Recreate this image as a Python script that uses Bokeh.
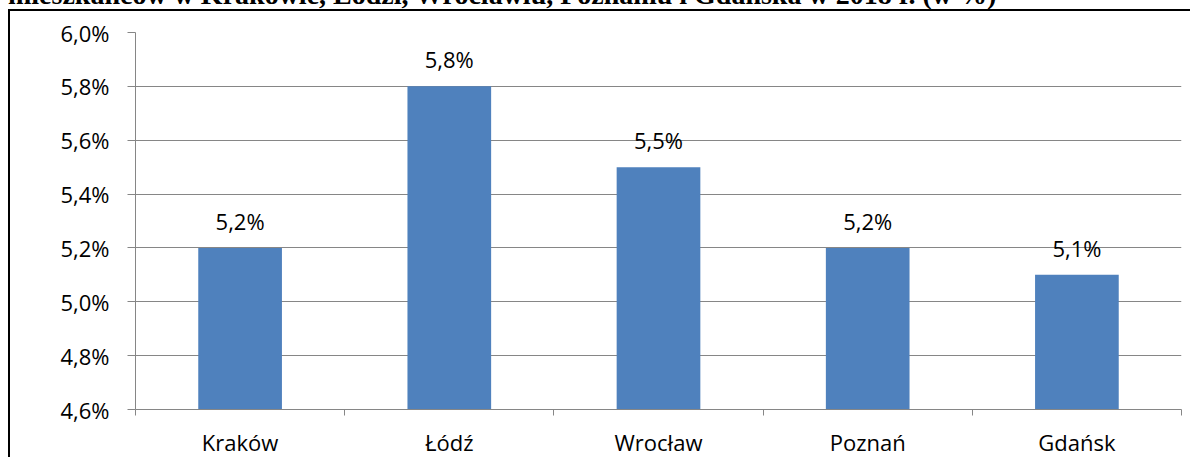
from bokeh.plotting import figure
from bokeh.models import FixedTicker, ColumnDataSource, Div, LabelSet
from bokeh.core.properties import value
from bokeh.layouts import column
from bokeh.embed import file_html
from bokeh.resources import INLINE

cities = ["Kraków", "Łódź", "Wrocław", "Poznań", "Gdańsk"]
values = [5.2, 5.8, 5.5, 5.2, 5.1]
value_labels = ["5,2%", "5,8%", "5,5%", "5,2%", "5,1%"]
y_ticks = [4.6, 4.8, 5.0, 5.2, 5.4, 5.6, 5.8, 6.0]
y_tick_labels = ["4,6%", "4,8%", "5,0%", "5,2%", "5,4%", "5,6%", "5,8%", "6,0%"]
title_text = "mieszkańców w Krakowie, Łodzi, Wrocławiu, Poznaniu i Gdańska w 2018 r. (w %)"

FONT = "Open Sans"
FS = "22px"
xs = [i + 0.5 for i in range(len(cities))]
src = ColumnDataSource(dict(x=xs, top=values, lab=value_labels))

p = figure(width=1182, height=448, output_backend="svg", toolbar_location=None,
           x_range=(0, len(cities)), y_range=(y_ticks[0], y_ticks[-1]),
           min_border_left=125, min_border_right=11, min_border_top=21,
           min_border_bottom=45, outline_line_color=None,
           styles={"border-left": "2px solid black", "border-top": "2px solid black"})

p.vbar(x="x", top="top", bottom=y_ticks[0], width=0.4, source=src,
       fill_color="#4F81BD", line_color=None)

p.add_layout(LabelSet(x="x", y="top", text="lab", source=src, text_align="center",
                      text_baseline="alphabetic", y_offset=18, text_font=value(FONT),
                      text_font_size=value(FS), text_color="black"))

# x axis
p.xaxis.ticker = FixedTicker(ticks=xs, minor_ticks=list(range(len(cities) + 1)))
p.xaxis.major_label_overrides = {x: c for x, c in zip(xs, cities)}
p.xaxis.major_tick_line_color = None
p.xaxis.major_tick_out = 6
p.xaxis.minor_tick_line_color = "#868686"
p.xaxis.minor_tick_out = 6
p.xaxis.minor_tick_in = 0
p.xaxis.axis_line_color = "#868686"
p.xaxis.major_label_text_font = FONT
p.xaxis.major_label_text_font_size = FS
p.xaxis.major_label_text_color = "black"
p.xaxis.major_label_standoff = 11

# y axis
p.yaxis.ticker = FixedTicker(ticks=y_ticks, minor_ticks=[])
p.yaxis.major_label_overrides = {t: l for t, l in zip(y_ticks, y_tick_labels)}
p.yaxis.axis_line_color = "#868686"
p.yaxis.major_tick_line_color = "#868686"
p.yaxis.major_tick_out = 8
p.yaxis.major_tick_in = 0
p.yaxis.minor_tick_line_color = None
p.yaxis.major_label_text_font = FONT
p.yaxis.major_label_text_font_size = FS
p.yaxis.major_label_text_color = "black"
p.yaxis.major_label_standoff = 18

p.xgrid.grid_line_color = None
p.ygrid.grid_line_color = "#868686"
p.ygrid.grid_line_width = 1

title = Div(text=title_text, width=1182, height=28, margin=(-19, 0, 0, 0),
            styles={"font-family": "Liberation Serif", "font-weight": "bold",
                    "font-size": "28px", "line-height": "28px", "white-space": "nowrap",
                    "color": "black", "margin-top": "-19px"})

layout = column(title, p, spacing=0, styles={"margin-left": "8px"})
open("out.html", "w").write(file_html(layout, INLINE))
